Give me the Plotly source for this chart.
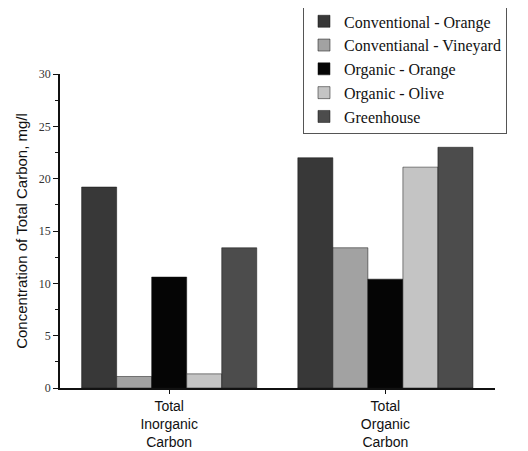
import plotly.graph_objects as go

categories = ["Total<br>Inorganic<br>Carbon", "Total<br>Organic<br>Carbon"]
series_names = ["Conventional - Orange", "Conventianal - Vineyard", "Organic - Orange",
                "Organic - Olive", "Greenhouse"]
conv_orange = [19.2, 22.0]
conv_vineyard = [1.1, 13.4]
org_orange = [10.6, 10.4]
org_olive = [1.35, 21.1]
greenhouse = [13.4, 23.0]
y_ticks = [0, 5, 10, 15, 20, 25, 30]

values = [conv_orange, conv_vineyard, org_orange, org_olive, greenhouse]
colors = ["#383838", "#a2a2a2", "#050505", "#c4c4c4", "#4c4c4c"]

fig = go.Figure()
for name, vals, col in zip(series_names, values, colors):
    fig.add_trace(go.Bar(
        x=categories, y=vals, name=name,
        marker=dict(color=col, line=dict(color="#111111", width=0.5)),
    ))

# the page body has an 8px margin, so the figure is sized/placed to compensate
fig.update_layout(
    width=520, height=443,
    barmode="group", bargap=0.19, bargroupgap=0,
    plot_bgcolor="white", paper_bgcolor="white",
    margin=dict(l=52, r=33, t=66, b=63, autoexpand=False),
    font=dict(family="Liberation Sans, Arial", color="#111111"),
    legend=dict(
        x=0.5586, y=1.225, xanchor="left", yanchor="top",
        bgcolor="white", bordercolor="#555555", borderwidth=1,
        font=dict(family="Liberation Serif, Times New Roman", size=16, color="#111111"),
        tracegroupgap=0, itemwidth=30,
    ),
    xaxis=dict(
        range=[-0.505, 1.507], showline=True, linecolor="#111111", linewidth=1.5,
        ticks="outside", ticklen=4, tickcolor="#111111",
        tickfont=dict(family="Liberation Sans, Arial", size=14, color="#111111"),
        showgrid=False, zeroline=False, automargin=False,
    ),
    yaxis=dict(
        range=[0, 30], tickvals=y_ticks, showline=True, linecolor="#111111", linewidth=1.5,
        ticks="outside", ticklen=5, tickcolor="#111111",
        minor=dict(dtick=2.5, ticks="outside", ticklen=3, tickcolor="#111111", showgrid=False),
        tickfont=dict(family="Liberation Serif, Times New Roman", size=12, color="#333333"),
        showgrid=False, zeroline=False, automargin=False,
        title=dict(text="Concentration of Total Carbon, mg/l",
                   font=dict(family="Liberation Sans, Arial", size=15, color="#111111"),
                   standoff=8),
    ),
)

fig.write_html("out.html")
